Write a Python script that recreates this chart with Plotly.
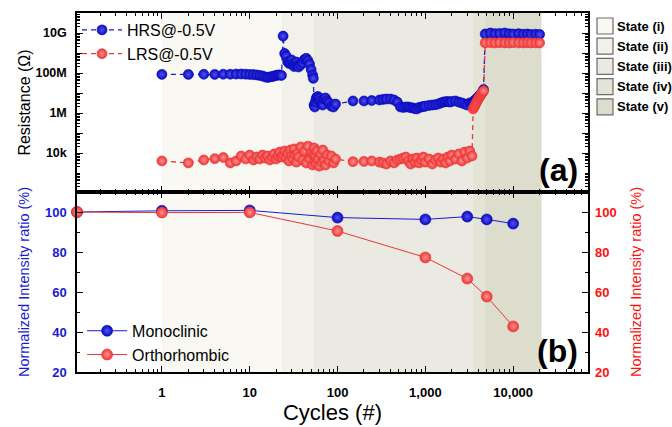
import plotly.graph_objects as go

# ---------------- data ----------------
cycles = [1, 2, 3, 4, 5, 6, 7, 8, 9, 10,
          11, 12, 13, 14, 15, 16, 17, 18, 19, 20, 21, 22, 23,
          24, 25, 26, 27, 28, 29, 30, 31, 32, 33, 34, 35, 36, 38, 40, 42, 44, 46, 48, 50, 52, 53,
          54, 55, 56, 57, 58, 60, 62, 64, 66, 68, 70, 73, 76, 80, 85, 90, 95,
          150, 200, 245, 300, 330, 360, 400, 440, 480,
          520, 560, 600, 640, 680, 720, 760, 800, 850, 900, 950, 1000, 1100, 1200, 1300, 1400,
          1500, 1600, 1700, 1800, 1900, 2000, 2200, 2400, 2600, 2800, 3000, 3200, 3400,
          3500, 3600, 3700, 3800, 3900, 4000, 4100, 4200, 4300, 4400, 4500, 4600,
          4800, 5500, 6200, 7000, 8000, 9000, 10000, 11500, 13000, 14500, 16000, 18000, 20000]

hrs = [8.5e7, 8.5e7, 8.6e7, 8.5e7, 8.7e7, 8.7e7, 8.8e7, 8.9e7, 8.7e7, 8.5e7,
       8.3e7, 8.0e7, 7.6e7, 7.1e7, 6.3e7, 6.0e7, 6.4e7, 6.6e7, 7.1e7, 7.6e7, 8.0e7, 7.9e7, 7.6e7,
       7.0e9, 9.5e8, 7.0e8, 3.7e8, 3.0e8, 3.2e8, 4.5e8, 2.8e8, 2.1e8, 2.6e8, 3.5e8, 2.4e8, 2.0e8,
       2.5e8, 3.2e8, 4.8e8, 5.4e8, 4.2e8, 2.8e8, 1.5e8, 8.0e7, 5.4e7,
       2.5e6, 2.0e6, 3.5e6, 5.0e6, 6.3e6, 6.6e6, 5.6e6, 4.0e6, 2.8e6, 2.5e6, 5.0e6, 5.6e6, 4.0e6,
       3.2e6, 2.2e6, 2.0e6, 2.8e6,
       4.0e6, 4.0e6, 4.2e6, 4.5e6, 4.8e6, 5.0e6, 5.0e6, 4.5e6, 3.5e6,
       2.0e6, 1.9e6, 2.0e6, 2.0e6, 1.85e6, 1.8e6, 1.65e6, 1.6e6, 1.9e6, 2.0e6, 2.1e6, 2.2e6,
       2.4e6, 2.5e6, 2.6e6, 2.8e6, 3.2e6, 3.5e6, 3.7e6, 3.8e6, 3.5e6, 3.8e6, 4.0e6, 3.5e6,
       3.2e6, 2.8e6, 2.5e6, 3.2e6, 3.3e6,
       3.5e6, 4.0e6, 4.5e6, 5.0e6, 5.6e6, 6.3e6, 7.1e6, 8.0e6, 9.0e6, 1.0e7, 1.2e7, 1.5e7,
       9.0e9, 1.0e10, 9.3e9, 9.5e9, 1.0e10, 9.1e9, 8.9e9, 9.3e9, 8.7e9, 8.9e9, 8.5e9, 8.7e9, 8.5e9]

lrs = [4.0e3, 3.2e3, 4.5e3, 5.2e3, 6.0e3, 3.2e3, 4.0e3, 7.1e3, 5.0e3, 7.9e3,
       4.5e3, 6.3e3, 5.0e3, 7.9e3, 5.6e3, 7.1e3, 4.5e3, 6.3e3, 8.9e3, 5.0e3, 7.1e3, 1.12e4, 6.3e3,
       7.9e3, 1.26e4, 5.6e3, 1.0e4, 4.0e3, 1.4e4, 7.1e3, 5.0e3, 1.6e4, 7.9e3, 3.5e3, 1.0e4, 6.3e3,
       2.0e4, 4.5e3, 1.26e4, 3.2e3, 2.2e4, 5.0e3, 1.0e4, 2.5e3, 7.9e3,
       1.8e4, 4.0e3, 7.1e3, 2.8e3, 1.26e4, 5.0e3, 2.2e3, 8.9e3, 3.5e3, 1.4e4, 4.5e3, 2.5e3, 7.9e3,
       4.0e3, 7.1e3, 3.2e3, 5.0e3,
       3.7e3, 3.8e3, 4.0e3, 3.5e3, 3.2e3, 2.8e3, 4.0e3, 3.2e3, 4.5e3,
       5.0e3, 5.6e3, 6.3e3, 4.0e3, 2.8e3, 5.0e3, 3.5e3, 5.6e3, 3.2e3, 4.5e3, 6.3e3, 3.5e3,
       5.0e3, 2.8e3, 4.5e3, 5.6e3, 3.5e3, 5.0e3, 3.2e3, 6.3e3, 4.0e3, 7.9e3, 5.0e3, 8.9e3,
       4.0e3, 1.12e4, 5.6e3, 1.26e4, 7.1e3,
       1.6e6, 2.0e6, 2.5e6, 3.2e6, 4.0e6, 5.0e6, 6.0e6, 7.1e6, 8.3e6, 1.0e7, 1.12e7, 1.26e7,
       3.2e9, 3.3e9, 3.2e9, 3.3e9, 3.2e9, 3.2e9, 3.3e9, 3.2e9, 3.2e9, 3.3e9, 3.2e9, 3.2e9, 3.2e9]

xrd_cycles = [0.108, 1, 10, 100, 1000, 3000, 5000, 10000]
monoclinic = [100, 100.6, 100.8, 97.2, 96.3, 97.7, 96.3, 94.2]
orthorhombic = [100, 99.7, 99.8, 90.5, 77.3, 66.7, 57.7, 42.8]

state_names = ["State (i)", "State (ii)", "State (iii)", "State (iv)", "State (v)"]
state_bounds = [1, 23, 53, 3500, 4700, 21000]
state_colors = ["#f9f8f3", "#f1f0e9", "#ebeae2", "#e3e3d6", "#dcddcc"]

res_tickvals = [1e4, 1e5, 1e6, 1e7, 1e8, 1e9, 1e10]
res_ticktext = ["10k", "", "1M", "", "100M", "", "10G"]
cyc_tickvals = [1, 10, 100, 1000, 10000]
cyc_ticktext = ["1", "10", "100", "1,000", "10,000"]

# ---------------- styling ----------------
FONT = "Liberation Sans, Arial, sans-serif"
BLUE = "#0a0abf"
RED = "#ee3535"
BLUE_T = "#1a1ad6"
RED_T = "#ff1010"

W, H = 672, 427
ML, MR, MT, MB = 77, 84, 13, 55
PW, PH = W - ML - MR, H - MT - MB
split = (372 - 192) / PH


def px(xp):
    return (xp - ML) / PW


def py(yp):
    return (H - MB - yp) / PH


def sphere(color, light, size):
    return dict(color=color, size=size, line=dict(width=0.6, color=color),
                gradient=dict(type="radial", color=light))


fig = go.Figure()

fig.add_trace(go.Scatter(x=cycles, y=hrs, name="HRS@-0.5V", mode="lines+markers",
                         line=dict(color=BLUE_T, width=1.3, dash="5px,4px"),
                         marker=sphere(BLUE, "#5252f2", 10), xaxis="x", yaxis="y",
                         legend="legend"))
fig.add_trace(go.Scatter(x=cycles, y=lrs, name="LRS@-0.5V", mode="lines+markers",
                         line=dict(color=RED, width=1.3, dash="5px,4px"),
                         marker=sphere(RED, "#ff9494", 10), xaxis="x", yaxis="y",
                         legend="legend"))
fig.add_trace(go.Scatter(x=xrd_cycles, y=monoclinic, name="Monoclinic", mode="lines+markers",
                         line=dict(color=BLUE_T, width=1),
                         marker=sphere(BLUE, "#5252f2", 11), xaxis="x2", yaxis="y2",
                         legend="legend2", cliponaxis=False))
fig.add_trace(go.Scatter(x=xrd_cycles, y=orthorhombic, name="Orthorhombic", mode="lines+markers",
                         line=dict(color=RED, width=1),
                         marker=sphere(RED, "#ff9494", 11), xaxis="x2", yaxis="y3",
                         legend="legend2", cliponaxis=False))

shapes = []
for i, c in enumerate(state_colors):
    for xr, yr in (("x", "y domain"), ("x2", "y2 domain")):
        shapes.append(dict(type="rect", xref=xr, yref=yr, x0=state_bounds[i], x1=state_bounds[i + 1],
                           y0=0, y1=1, fillcolor=c, line=dict(width=0), layer="below"))

annotations = []
for i, (nm, c) in enumerate(zip(state_names, state_colors)):
    yc = 26 + 20.2 * i
    shapes.append(dict(type="rect", xref="paper", yref="paper", x0=px(597), x1=px(613),
                       y0=py(yc + 8), y1=py(yc - 8), fillcolor=c,
                       line=dict(width=1.2, color="#6b6b6b")))
    annotations.append(dict(text="<b>%s</b>" % nm, xref="paper", yref="paper", x=px(615),
                            y=py(yc), xanchor="left", yanchor="middle", showarrow=False,
                            font=dict(family=FONT, size=13, color="black")))

annotations.append(dict(text="<b>(a)</b>", xref="paper", yref="paper", x=px(580), y=py(170),
                        xanchor="right", yanchor="middle", showarrow=False,
                        font=dict(family=FONT, size=32, color="black")))
annotations.append(dict(text="<b>(b)</b>", xref="paper", yref="paper", x=px(580), y=py(351),
                        xanchor="right", yanchor="middle", showarrow=False,
                        font=dict(family=FONT, size=32, color="black")))

x_minor = [m * 10 ** e for e in range(-1, 5) for m in range(2, 10)]
y_minor = [m * 10 ** e for e in range(2, 11) for m in range(2, 10)]

common_x = dict(type="log", range=[-0.9666, 4.852], showline=True, linecolor="black", linewidth=1.5,
                ticks="inside", ticklen=6, tickwidth=1.3, tickcolor="black", mirror="ticks",
                tickvals=cyc_tickvals, showgrid=False, zeroline=False, automargin=False,
                minor=dict(tickmode="array", tickvals=x_minor, ticks="inside", ticklen=3.5,
                           tickwidth=1.1, tickcolor="black", showgrid=False))

fig.update_layout(
    width=W, height=H, margin=dict(l=ML, r=MR, t=MT, b=MB, autoexpand=False),
    paper_bgcolor="white", plot_bgcolor="white",
    font=dict(family=FONT, color="black"),
    shapes=shapes, annotations=annotations,
    xaxis=dict(common_x, anchor="y", showticklabels=False, ticktext=cyc_ticktext),
    xaxis2=dict(common_x, anchor="y2", ticktext=cyc_ticktext, ticklabelstandoff=8,
                tickfont=dict(family=FONT, size=13, color="black", weight="bold"),
                title=dict(text="Cycles (#)", font=dict(family=FONT, size=22, color="black"),
                           standoff=2)),
    yaxis=dict(type="log", domain=[split, 1], anchor="x", range=[2.05, 11], showline=True,
               linecolor="black", linewidth=1.5, mirror="ticks", ticks="inside", ticklen=6,
               tickwidth=1.3, tickcolor="black", tickvals=res_tickvals, ticktext=res_ticktext,
               ticklabelstandoff=6, showgrid=False, zeroline=False, automargin=False,
               tickfont=dict(family=FONT, size=12.5, color="black", weight="bold"),
               minor=dict(tickmode="array", tickvals=y_minor, ticks="inside", ticklen=3,
                          tickwidth=1, tickcolor="black", showgrid=False),
               title=dict(text="Resistance (Ω)", font=dict(family=FONT, size=16, color="black"),
                          standoff=1)),
    yaxis2=dict(domain=[0, split], anchor="x2", range=[20, 110], showline=True, linecolor="black",
                linewidth=1.5, mirror="ticks", ticks="inside", ticklen=6, tickwidth=1.3,
                tickcolor="black", tickvals=[20, 40, 60, 80, 100], ticklabelstandoff=6,
                showgrid=False, zeroline=False, automargin=False,
                tickfont=dict(family=FONT, size=13, color=BLUE_T, weight="bold"),
                minor=dict(tickmode="array", tickvals=[30, 50, 70, 90], ticks="inside", ticklen=3.5,
                           tickwidth=1.1, tickcolor="black", showgrid=False),
                title=dict(text="Normalized Intensity ratio (%)",
                           font=dict(family=FONT, size=14.5, color=BLUE_T), standoff=12)),
    yaxis3=dict(overlaying="y2", side="right", anchor="x2", range=[20, 110], showline=False,
                ticks="", tickvals=[20, 40, 60, 80, 100], ticklabelstandoff=6, showgrid=False,
                zeroline=False, automargin=False,
                tickfont=dict(family=FONT, size=13, color=RED_T, weight="bold"),
                title=dict(text="Normalized Intensity ratio (%)",
                           font=dict(family=FONT, size=14.5, color=RED_T), standoff=15)),
    legend=dict(x=0.0, y=1.0, xanchor="left", yanchor="top", bgcolor="rgba(0,0,0,0)",
                font=dict(family=FONT, size=16, color="black"), tracegroupgap=0,
                itemwidth=40),
    legend2=dict(x=0.01, y=0.162, xanchor="left", yanchor="top", bgcolor="rgba(0,0,0,0)",
                 font=dict(family=FONT, size=16, color="black"), tracegroupgap=0,
                 itemwidth=40),
)

fig.write_html("out.html")
